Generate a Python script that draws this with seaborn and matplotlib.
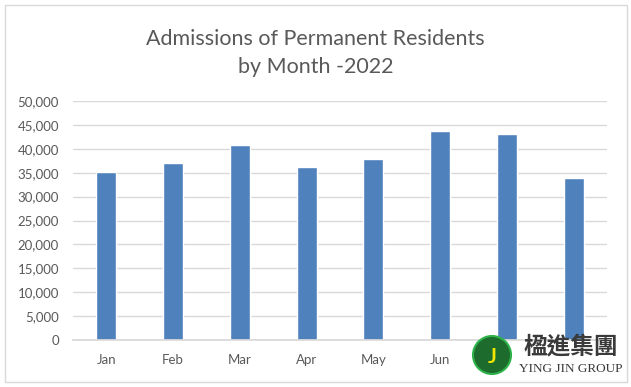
import matplotlib
matplotlib.use("Agg")
import matplotlib.pyplot as plt
import matplotlib.ticker as mticker
from matplotlib.patches import Circle, Rectangle
import seaborn as sns
import pandas as pd

# data
months = ["Jan", "Feb", "Mar", "Apr", "May", "Jun", "Jul", "Aug"]
admissions = [35200, 37100, 40800, 36200, 37800, 43700, 43000, 33800]
# month labels that the logo hides in the original
hidden = ["Jul", "Aug"]

df = pd.DataFrame({"month": months, "admissions": admissions})

sns.set_theme(style="white")
plt.rcParams["font.family"] = ["Lato", "DejaVu Sans"]

fig = plt.figure(figsize=(6.31, 3.87), dpi=100)
ax = fig.add_axes([73 / 631, 1 - 340 / 387, (607 - 73) / 631, (340 - 101) / 387])

sns.barplot(data=df, x="month", y="admissions", color="#4F81BD", saturation=1,
            width=0.3, ax=ax)

ax.set_ylim(0, 50000)
ax.yaxis.set_major_locator(mticker.MultipleLocator(5000))
ax.yaxis.set_major_formatter(mticker.StrMethodFormatter("{x:,.0f}"))
ax.grid(axis="y", color="#D9D9D9", linewidth=1)
ax.set_axisbelow(True)
for s in ["top", "right", "left"]:
    ax.spines[s].set_visible(False)
ax.spines["bottom"].set_color("#D9D9D9")
ax.tick_params(axis="both", length=0, colors="#595959", labelsize=9.5)
ax.tick_params(axis="x", pad=10)
ax.tick_params(axis="y", pad=10)
ax.set_xlabel("")
ax.set_ylabel("")
for lab in ax.get_xticklabels():
    if lab.get_text() in hidden:
        lab.set_visible(False)

fig.text(0.5, 1 - 53 / 387, "Admissions of Permanent Residents\nby Month -2022",
         ha="center", va="center", fontsize=15.5, color="#595959", linespacing=1.45)

# overlay in pixel coordinates for border and watermark
ov = fig.add_axes([0, 0, 1, 1], zorder=10)
ov.set_xlim(0, 631)
ov.set_ylim(387, 0)
ov.axis("off")
ov.patch.set_alpha(0)

# outer chart border
ov.add_patch(Rectangle((5, 5), 622, 377, fill=False, edgecolor="#D9D9D9", linewidth=1))

# watermark logo
ov.add_patch(Rectangle((468, 342), 156, 39, facecolor="white", edgecolor="none"))
ov.add_patch(Circle((492, 355), 19, facecolor="#1E6B2E", edgecolor="#2DB34A", linewidth=1.5))
ov.text(492, 357, "J", ha="center", va="center", fontsize=15, fontweight="bold",
        color="#F2E600")
ov.text(571, 347, "楹進集團", ha="center", va="center", fontsize=17, color="#3A3A3A",
        fontweight="bold", family=["Noto Sans CJK TC", "DejaVu Sans"])
ov.text(571, 369, "YING JIN GROUP", ha="center", va="center", fontsize=9.5,
        color="#3A3A3A", family=["Liberation Serif", "DejaVu Serif"])

fig.savefig("out.png", dpi=100)
